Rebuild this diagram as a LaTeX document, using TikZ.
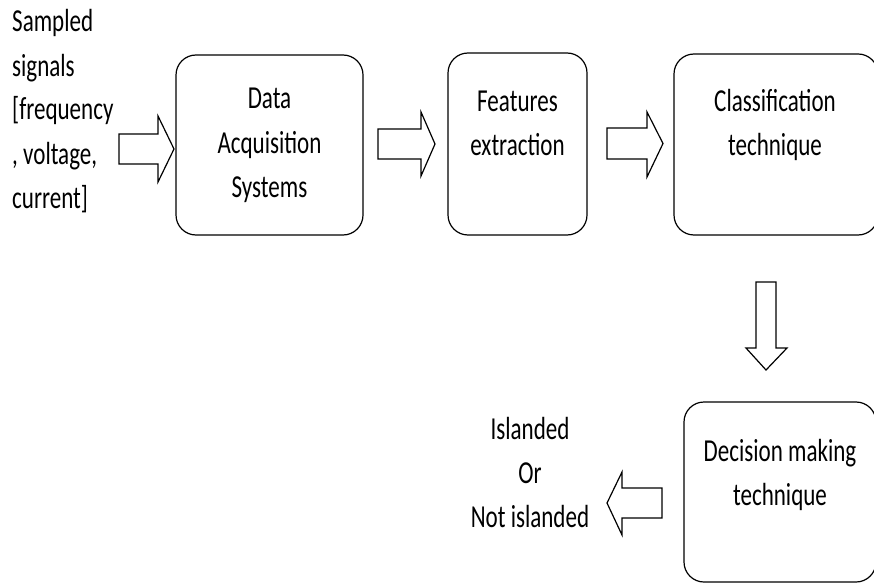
\documentclass[tikz,border=0pt]{standalone}
\usepackage{fontspec}
\setmainfont{Carlito}[FakeStretch=0.72]
\begin{document}
\begin{tikzpicture}[x=1pt,y=-1pt,
  box/.style={draw, line width=1.2pt, rounded corners=20pt, inner sep=0pt},
  lbl/.style={font=\fontsize{32}{44}\selectfont, align=center, inner sep=0pt, anchor=base},
  blk/.style={draw, line width=1.2pt, fill=white, line join=miter}]
\useasboundingbox (0,0) rectangle (874,585);

% processing stages
\node[box, minimum width=187pt, minimum height=180pt] (daq)  at (269.5,145) {};
\node[box, minimum width=139pt, minimum height=182pt] (feat) at (517.5,144) {};
\node[box, minimum width=204pt, minimum height=181pt] (cls)  at (776,144.5) {};
\node[box, minimum width=192pt, minimum height=180pt] (dec)  at (780,492) {};

% stage labels (placed by the baseline of their last line)
\node[lbl] (daqtxt)  at (269.5,197) {Data\\Acquisition\\Systems};
\node[lbl] (feattxt) at (517.5,156) {Features\\extraction};
\node[lbl] (clstxt)  at (775,156) {Classification\\technique};
\node[lbl] (dectxt)  at (780,505) {Decision making\\technique};

% input signals and output decision
\node[lbl, align=left, anchor=base west] (input) at (12,208)
  {Sampled\\signals\\[0pt][frequency\\, voltage,\\current]};
\node[lbl] (output) at (530,527) {Islanded\\Or\\Not islanded};

% block arrows
\draw[blk] (119,134) -- (158,134) -- (158,116) -- (174,149) -- (158,182) -- (158,164) -- (119,164) -- cycle;
\draw[blk] (378,129) -- (421,129) -- (421,112) -- (435,144) -- (421,176) -- (421,159) -- (378,159) -- cycle;
\draw[blk] (607,128) -- (647,128) -- (647,112) -- (663,143.5) -- (647,177) -- (647,159) -- (607,159) -- cycle;
\draw[blk] (756,282) -- (776,282) -- (776,348) -- (787,348) -- (766,370) -- (746,348) -- (756,348) -- cycle;
\draw[blk] (662,488) -- (622,488) -- (622,472) -- (607,503) -- (622,535) -- (622,518) -- (662,518) -- cycle;
\end{tikzpicture}
\end{document}
